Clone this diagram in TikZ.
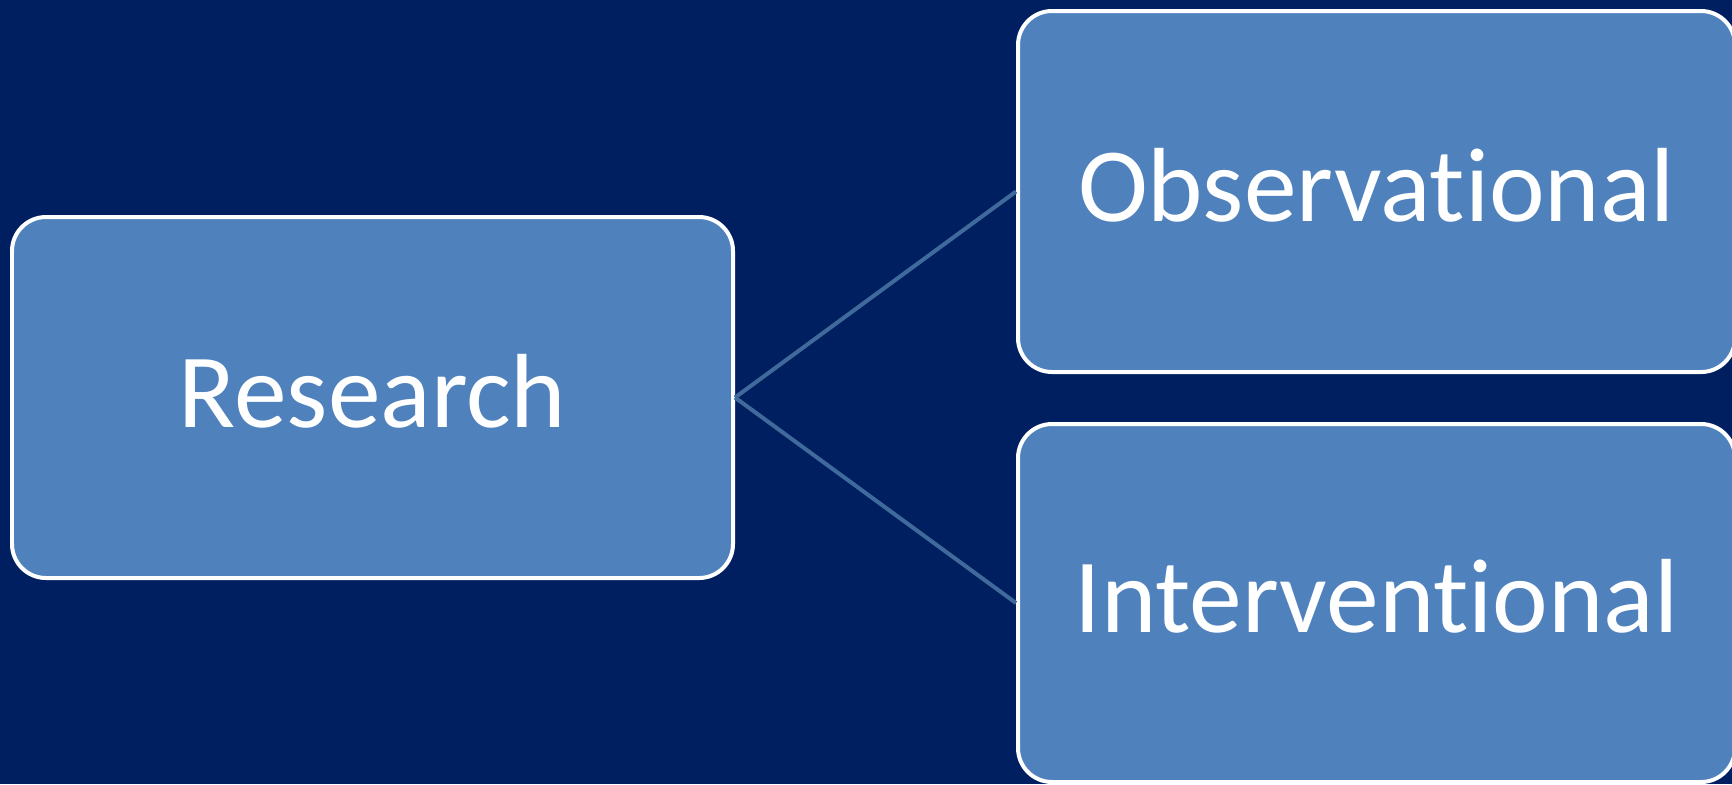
\documentclass[tikz,border=0pt]{standalone}
\usepackage{fontspec}
\setmainfont[Ligatures=NoCommon]{Carlito}
\definecolor{navybg}{RGB}{0,31,96}
\definecolor{boxblue}{RGB}{79,129,189}
\definecolor{linkblue}{RGB}{65,106,156}
\tikzset{
	stepbox/.style={draw=white, line width=0.04cm, fill=boxblue, rounded corners=0.34cm, inner sep=0pt, text=white, text height=23.4pt, text depth=6.6pt, font=\fontsize{30}{34}\selectfont},
	link/.style={draw=linkblue, line width=0.04cm}
}
\begin{document}
\begin{tikzpicture}
		% Background and frame:
		\clip (0, 0) rectangle (17.32, -7.84);
		\fill[navybg] (0, 0) rectangle (17.32, -7.84);
		% Boxes:
		\node[stepbox, minimum width=7.21cm, minimum height=3.61cm] (research) at (3.725, -3.975){Research};
		\node[stepbox, minimum width=7.17cm, minimum height=3.61cm] (observational) at (13.765, -1.915){Observational};
		\node[stepbox, minimum width=7.17cm, minimum height=3.58cm] (interventional) at (13.765, -6.03){Interventional};
		% Links:
		\draw[link] (research.east) -- (observational.west);
		\draw[link] (research.east) -- (interventional.west);
	\end{tikzpicture}
\end{document}
